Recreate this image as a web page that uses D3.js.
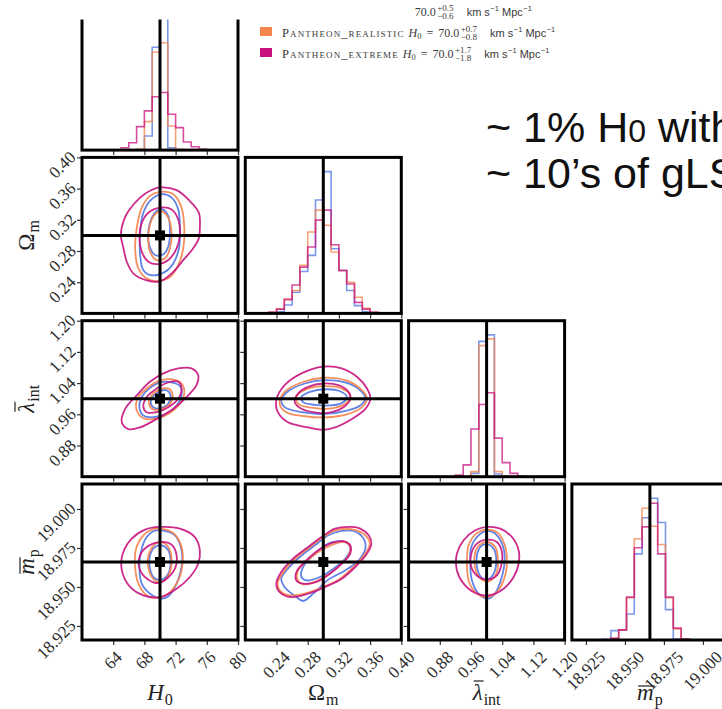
<!DOCTYPE html>
<html><head><meta charset="utf-8">
<script src="https://cdn.jsdelivr.net/npm/d3@7"></script>
<style>html,body{margin:0;padding:0;background:#fff;}svg{display:block;}</style>
</head><body>
<script>
// ---- parameters of the corner plot ----
const paramNames = ["H0", "Om", "lam", "mp"];
const truths = [70.0, 0.30, 1.00, 18.966];
const ranges = [[60, 80], [0.20, 0.40], [0.80, 1.20], [18.916, 19.016]];
const tickValues = [
  [64, 68, 72, 76, 80],
  [0.24, 0.28, 0.32, 0.36, 0.40],
  [0.88, 0.96, 1.04, 1.12, 1.20],
  [18.925, 18.950, 18.975, 19.000]
];
const tickFormats = ["d", ".2f", ".2f", ".3f"];
const nBins = 20;

// ---- series ----
const seriesKeys = ["ideal", "realistic", "extreme"];
const seriesLabels = ["Pantheon_ideal", "Pantheon_realistic", "Pantheon_extreme"];
const h0Median = ["70.0", "70.0", "70.0"];
const h0Upper = ["+0.5", "+0.7", "+1.7"];
const h0Lower = ["\u22120.6", "\u22120.8", "\u22121.8"];

// ---- 1D marginal histograms (20 bins over each range) ----
const histH0Ideal     = [0,0,0,0,0,0,0,0,14,102.3,141,2.3,0,0,0,0,0,0,0,0];
const histH0Realistic = [0,0,0,0,0,0,0,0.7,28.3,97.3,106.7,24,0.7,0,0,0,0,0,0,0];
const histH0Extreme   = [0,0,0,0,0,2.3,7.3,23.3,39,53,57.3,35.7,22.3,8,3.3,0.7,0,0,0,0];

const histOmIdeal     = [0,0,0,0.3,1.7,8.3,21,41.7,57.7,112.7,141,64.3,42.7,22.7,7.7,1.7,0.3,0,0,0];
const histOmRealistic = [0,0,0,1,4.3,14.3,22.7,47.7,81,102.7,87.7,61,42.7,31,16,5,1,0,0,0];
const histOmExtreme   = [0,0,0,1,4.3,13.7,28.3,46,66,92.7,102.7,68.3,42.7,29.3,11,4.3,1,0,0,0];

const histLamIdeal     = [0,0,0,0,0,0,0,0,3.3,134.3,140.7,2.7,0,0,0,0,0,0,0,0];
const histLamRealistic = [0,0,0,0,0,0,0,0,5,130,136.7,5,0.5,0,0,0,0,0,0,0];
const histLamExtreme   = [0,0,0,0,0,0,1.7,11.7,47.3,71.7,83.3,38.3,14,3.3,0.7,0,0,0,0,0];

const histMpIdeal     = [0,0,0,0,0.7,9.3,10,25.7,85,120.7,140,116,30,1,0,0,0,0,0,0];
const histMpRealistic = [0,0,0,0,0,1.7,10,41.7,100,130,112.3,94.3,41.7,11,1,0,0,0,0,0];
const histMpExtreme   = [0,0,0,0,0,1.7,10,42.3,91,111.7,135,85,42.3,11.7,1,0,0,0,0,0];

// ---- 2D credible contours: [inner level, outer level], points as [x, y] ----
const ctrH0OmIdeal = [
  [[70.34,0.3333],[71.06,0.3247],[71.28,0.3052],[71.06,0.2857],[70.43,0.2758],[69.36,0.2749],[68.60,0.2879],[68.51,0.3052],[68.94,0.3225],[69.57,0.3312]],
  [[70.21,0.3528],[71.49,0.3485],[72.34,0.3333],[72.55,0.3095],[72.43,0.2835],[71.70,0.2641],[70.64,0.2532],[68.94,0.2489],[67.87,0.2554],[67.45,0.2749],[67.45,0.3009],[67.79,0.3268],[68.72,0.3442]]
];
const ctrH0OmRealistic = [
  [[70.21,0.3312],[71.06,0.3225],[71.49,0.3030],[71.28,0.2835],[70.64,0.2706],[69.57,0.2684],[68.72,0.2792],[68.51,0.2987],[68.94,0.3204],[69.57,0.3290]],
  [[70.00,0.3559],[71.70,0.3528],[72.77,0.3355],[73.11,0.3095],[72.98,0.2835],[72.34,0.2619],[71.28,0.2467],[69.57,0.2415],[68.30,0.2446],[67.23,0.2576],[66.81,0.2835],[67.02,0.3095],[67.66,0.3355],[68.72,0.3507]]
];
const ctrH0OmExtreme = [
  [[70.00,0.3355],[71.49,0.3333],[72.34,0.3204],[72.55,0.3009],[72.13,0.2835],[71.06,0.2684],[69.79,0.2632],[68.51,0.2662],[67.66,0.2792],[67.36,0.2987],[67.66,0.3160],[68.51,0.3290]],
  [[70.00,0.3615],[72.13,0.3580],[73.83,0.3440],[74.98,0.3290],[75.11,0.3095],[74.98,0.2965],[74.26,0.2835],[72.98,0.2684],[71.70,0.2532],[70.00,0.2411],[68.30,0.2424],[66.60,0.2511],[65.74,0.2662],[65.32,0.2835],[64.98,0.3009],[65.32,0.3182],[65.96,0.3312],[67.45,0.3485],[68.72,0.3572]]
];

const ctrH0LamIdeal = [
  [[70.85,1.0217],[71.36,1.0087],[71.06,0.9870],[70.21,0.9766],[69.23,0.9766],[68.81,0.9896],[69.15,1.0069],[70.00,1.0190]],
  [[71.06,1.0433],[72.55,1.0329],[72.77,1.0087],[72.13,0.9827],[70.85,0.9610],[69.15,0.9524],[67.87,0.9567],[67.36,0.9783],[67.66,1.0043],[68.72,1.0277],[70.00,1.0416]]
];
const ctrH0LamRealistic = [
  [[71.06,1.0260],[71.62,1.0104],[71.28,0.9870],[70.21,0.9740],[69.15,0.9723],[68.60,0.9870],[68.94,1.0087],[70.00,1.0234]],
  [[71.28,1.0502],[72.77,1.0390],[73.11,1.0130],[72.55,0.9870],[71.06,0.9610],[69.36,0.9480],[67.87,0.9498],[67.02,0.9697],[67.11,1.0000],[68.30,1.0260],[69.79,1.0450]]
];
const ctrH0LamExtreme = [
  [[72.34,1.0433],[72.77,1.0260],[72.34,1.0000],[71.06,0.9783],[69.57,0.9654],[68.30,0.9654],[67.87,0.9783],[68.30,1.0043],[69.57,1.0260],[71.06,1.0416]],
  [[74.04,1.0779],[74.89,1.0606],[74.68,1.0346],[73.40,1.0043],[71.70,0.9740],[69.57,0.9480],[67.45,0.9264],[65.96,0.9221],[65.11,0.9394],[65.53,0.9740],[67.02,1.0087],[68.72,1.0433],[70.43,1.0650],[72.34,1.0779]]
];

const ctrOmLamIdeal = [
  [[0.3022,1.0242],[0.3215,1.0190],[0.3302,1.0043],[0.3237,0.9887],[0.3086,0.9827],[0.2892,0.9844],[0.2741,0.9913],[0.2720,1.0043],[0.2828,1.0173]],
  [[0.3000,1.0476],[0.3280,1.0416],[0.3474,1.0217],[0.3539,1.0017],[0.3474,0.9827],[0.3302,0.9697],[0.3022,0.9610],[0.2720,0.9654],[0.2504,0.9783],[0.2461,0.9957],[0.2547,1.0190],[0.2763,1.0390]]
];
const ctrOmLamRealistic = [
  [[0.3022,1.0320],[0.3237,1.0260],[0.3345,1.0104],[0.3302,0.9896],[0.3129,0.9758],[0.2892,0.9758],[0.2677,0.9870],[0.2655,1.0069],[0.2785,1.0243]],
  [[0.3000,1.0537],[0.3280,1.0476],[0.3474,1.0260],[0.3560,1.0017],[0.3496,0.9783],[0.3323,0.9610],[0.3065,0.9524],[0.2763,0.9550],[0.2526,0.9654],[0.2440,0.9870],[0.2504,1.0173],[0.2720,1.0416]]
];
const ctrOmLamExtreme = [
  [[0.3000,1.0390],[0.3194,1.0346],[0.3323,1.0173],[0.3345,0.9983],[0.3259,0.9783],[0.3108,0.9654],[0.2935,0.9636],[0.2720,0.9740],[0.2634,0.9913],[0.2677,1.0130],[0.2806,1.0303]],
  [[0.3000,1.0823],[0.3237,1.0779],[0.3431,1.0563],[0.3560,1.0260],[0.3603,1.0000],[0.3539,0.9740],[0.3366,0.9480],[0.3151,0.9264],[0.3000,0.9203],[0.2806,0.9264],[0.2547,0.9394],[0.2418,0.9654],[0.2397,0.9957],[0.2504,1.0346],[0.2720,1.0650]]
];

const ctrH0MpIdeal = [
  [[70.21,18.9767],[71.06,18.9735],[71.36,18.9660],[71.06,18.9585],[70.21,18.9547],[69.23,18.9559],[68.72,18.9617],[68.72,18.9703],[69.36,18.9756]],
  [[70.21,18.9863],[71.91,18.9831],[72.77,18.9735],[72.77,18.9628],[72.13,18.9521],[71.06,18.9440],[70.21,18.9425],[68.72,18.9457],[67.66,18.9521],[67.36,18.9628],[67.66,18.9746],[68.30,18.9820],[69.15,18.9857]]
];
const ctrH0MpRealistic = [
  [[70.21,18.9788],[71.06,18.9756],[71.49,18.9671],[71.19,18.9585],[70.43,18.9538],[69.36,18.9542],[68.64,18.9596],[68.43,18.9681],[68.94,18.9752],[69.57,18.9782]],
  [[70.00,18.9874],[71.70,18.9846],[72.77,18.9756],[72.89,18.9649],[72.34,18.9542],[71.06,18.9457],[69.57,18.9431],[68.30,18.9446],[67.23,18.9521],[66.81,18.9628],[66.94,18.9746],[67.87,18.9831],[68.94,18.9868]]
];
const ctrH0MpExtreme = [
  [[70.00,18.9788],[71.49,18.9771],[72.13,18.9703],[71.91,18.9617],[70.85,18.9553],[69.79,18.9525],[68.51,18.9547],[67.45,18.9606],[67.36,18.9692],[68.30,18.9756]],
  [[70.00,18.9885],[72.55,18.9874],[74.47,18.9820],[75.11,18.9735],[74.89,18.9649],[73.83,18.9564],[72.13,18.9489],[70.00,18.9435],[67.87,18.9446],[66.17,18.9500],[65.11,18.9606],[65.23,18.9714],[66.38,18.9810],[68.09,18.9868]]
];

const ctrOmMpIdeal = [
  [[0.3065,18.9778],[0.3280,18.9788],[0.3345,18.9746],[0.3280,18.9681],[0.3129,18.9617],[0.2957,18.9564],[0.2785,18.9542],[0.2720,18.9564],[0.2741,18.9628],[0.2871,18.9703]],
  [[0.3237,18.9859],[0.3388,18.9859],[0.3517,18.9810],[0.3539,18.9746],[0.3453,18.9671],[0.3280,18.9606],[0.3065,18.9547],[0.2871,18.9457],[0.2741,18.9410],[0.2655,18.9435],[0.2504,18.9500],[0.2461,18.9553],[0.2547,18.9617],[0.2698,18.9692],[0.2892,18.9767],[0.3065,18.9831]]
];
const ctrOmMpRealistic = [
  [[0.3129,18.9773],[0.3280,18.9788],[0.3345,18.9756],[0.3323,18.9703],[0.3216,18.9639],[0.3065,18.9581],[0.2892,18.9532],[0.2741,18.9517],[0.2668,18.9547],[0.2677,18.9606],[0.2785,18.9666],[0.2957,18.9731]],
  [[0.3151,18.9863],[0.3388,18.9868],[0.3539,18.9831],[0.3595,18.9778],[0.3539,18.9714],[0.3388,18.9628],[0.3216,18.9553],[0.3000,18.9500],[0.2785,18.9461],[0.2569,18.9446],[0.2440,18.9478],[0.2418,18.9532],[0.2504,18.9606],[0.2655,18.9688],[0.2828,18.9756],[0.3000,18.9820]]
];
const ctrOmMpExtreme = [
  [[0.3108,18.9782],[0.3259,18.9793],[0.3345,18.9767],[0.3345,18.9714],[0.3237,18.9649],[0.3086,18.9585],[0.2914,18.9532],[0.2741,18.9521],[0.2655,18.9542],[0.2655,18.9596],[0.2763,18.9660],[0.2935,18.9735]],
  [[0.3151,18.9874],[0.3366,18.9885],[0.3474,18.9874],[0.3582,18.9831],[0.3616,18.9778],[0.3560,18.9714],[0.3409,18.9628],[0.3237,18.9553],[0.3022,18.9500],[0.2806,18.9457],[0.2591,18.9435],[0.2440,18.9467],[0.2397,18.9521],[0.2461,18.9596],[0.2612,18.9681],[0.2806,18.9756],[0.2978,18.9820]]
];

const ctrLamMpIdeal = [
  [[1.0026,18.9773],[1.0197,18.9739],[1.0248,18.9660],[1.0180,18.9585],[1.0026,18.9547],[0.9855,18.9564],[0.9752,18.9628],[0.9752,18.9703],[0.9855,18.9761]],
  [[1.0026,18.9859],[1.0265,18.9831],[1.0436,18.9746],[1.0453,18.9639],[1.0351,18.9532],[1.0180,18.9446],[1.0026,18.9425],[0.9795,18.9457],[0.9624,18.9542],[0.9581,18.9649],[0.9607,18.9756],[0.9795,18.9831]]
];
const ctrLamMpRealistic = [
  [[1.0051,18.9788],[1.0222,18.9756],[1.0291,18.9671],[1.0248,18.9585],[1.0077,18.9538],[0.9880,18.9547],[0.9735,18.9596],[0.9684,18.9681],[0.9769,18.9756],[0.9923,18.9784]],
  [[1.0026,18.9868],[1.0308,18.9842],[1.0479,18.9756],[1.0522,18.9649],[1.0436,18.9542],[1.0222,18.9457],[0.9966,18.9435],[0.9709,18.9467],[0.9538,18.9542],[0.9496,18.9649],[0.9538,18.9767],[0.9735,18.9842]]
];
const ctrLamMpExtreme = [
  [[1.0026,18.9803],[1.0265,18.9788],[1.0393,18.9724],[1.0376,18.9639],[1.0265,18.9574],[1.0026,18.9547],[0.9795,18.9564],[0.9624,18.9617],[0.9598,18.9703],[0.9752,18.9778]],
  [[1.0009,18.9885],[1.0350,18.9874],[1.0650,18.9820],[1.0821,18.9735],[1.0821,18.9649],[1.0693,18.9564],[1.0436,18.9489],[1.0051,18.9446],[0.9709,18.9461],[0.9410,18.9521],[0.9239,18.9606],[0.9239,18.9714],[0.9410,18.9799],[0.9709,18.9863]]
];

// tables built from the arrays above
const histTable = [
  [histH0Ideal, histH0Realistic, histH0Extreme],
  [histOmIdeal, histOmRealistic, histOmExtreme],
  [histLamIdeal, histLamRealistic, histLamExtreme],
  [histMpIdeal, histMpRealistic, histMpExtreme]
];
const contourTable = {
  "1,0": [ctrH0OmIdeal, ctrH0OmRealistic, ctrH0OmExtreme],
  "2,0": [ctrH0LamIdeal, ctrH0LamRealistic, ctrH0LamExtreme],
  "2,1": [ctrOmLamIdeal, ctrOmLamRealistic, ctrOmLamExtreme],
  "3,0": [ctrH0MpIdeal, ctrH0MpRealistic, ctrH0MpExtreme],
  "3,1": [ctrOmMpIdeal, ctrOmMpRealistic, ctrOmMpExtreme],
  "3,2": [ctrLamMpIdeal, ctrLamMpRealistic, ctrLamMpExtreme]
};

// ---- layout & style ----
const W = 722, H = 709;
const colors = ["#4f74e4", "#f5834c", "#c8137f"];
const panelSize = 156, panelStep = 163.3;
const gridLeft = 82, gridBottom = 640;
const colLeft = j => gridLeft + j * panelStep;
const rowTop = i => gridBottom - panelSize - (3 - i) * panelStep;
const serif = "'Liberation Serif', 'DejaVu Serif', serif";
const sans = "'Liberation Sans', Arial, sans-serif";
const tickColor = "#333";
const NBSP = "\u00A0";

const svg = d3.select("body").append("svg").attr("width", W).attr("height", H);

function xScale(j) {
  return d3.scaleLinear().domain(ranges[j]).range([colLeft(j), colLeft(j) + panelSize]);
}
function yScale(i, top) {
  return d3.scaleLinear().domain(ranges[i]).range([top + panelSize, top]);
}

const plots = svg.append("g");

for (let i = 0; i < 4; i++) {
  for (let j = 0; j <= i; j++) {
    const left = colLeft(j), top = rowTop(i);
    const x = xScale(j);
    const g = plots.append("g");
    const clipId = `clip-${i}-${j}`;
    g.append("clipPath").attr("id", clipId).append("rect")
      .attr("x", left).attr("y", top).attr("width", panelSize).attr("height", panelSize);
    const inner = g.append("g").attr("clip-path", `url(#${clipId})`);

    // outward tick marks
    g.append("g").attr("transform", `translate(0,${top + panelSize})`)
      .call(d3.axisBottom(x).tickValues(tickValues[j]).tickSize(5).tickFormat(""))
      .call(a => a.select(".domain").remove())
      .call(a => a.selectAll("line").attr("stroke", tickColor).attr("stroke-width", 1.2));

    if (i === j) {
      // marginal histogram
      const counts = histTable[i];
      const ymax = 1.1 * d3.max(counts.flat());
      const y = d3.scaleLinear().domain([0, ymax]).range([top + panelSize, top]);
      const [lo, hi] = ranges[j];
      const edges = d3.range(nBins + 1).map(k => lo + (hi - lo) * k / nBins);
      const step = d3.line().x(d => x(d[0])).y(d => y(d[1])).curve(d3.curveStepAfter);
      counts.forEach((c, s) => {
        const pts = [[edges[0], 0]];
        c.forEach((v, k) => pts.push([edges[k], v]));
        pts.push([edges[nBins], c[nBins - 1]]);
        pts.push([edges[nBins], 0]);
        inner.append("path").attr("d", step(pts)).attr("fill", "none")
          .attr("stroke", colors[s]).attr("stroke-width", 1.6).attr("stroke-opacity", 0.75);
      });
      inner.append("line").attr("x1", x(truths[j])).attr("x2", x(truths[j]))
        .attr("y1", top).attr("y2", top + panelSize)
        .attr("stroke", "#000").attr("stroke-width", 3);
    } else {
      const y = yScale(i, top);
      g.append("g").attr("transform", `translate(${left},0)`)
        .call(d3.axisLeft(y).tickValues(tickValues[i]).tickSize(5).tickFormat(""))
        .call(a => a.select(".domain").remove())
        .call(a => a.selectAll("line").attr("stroke", tickColor).attr("stroke-width", 1.2));
      const line = d3.line().x(d => x(d[0])).y(d => y(d[1])).curve(d3.curveCatmullRomClosed.alpha(0.5));
      contourTable[`${i},${j}`].forEach((levels, s) => {
        levels.forEach(poly => {
          inner.append("path").attr("d", line(poly)).attr("fill", "none")
            .attr("stroke", colors[s]).attr("stroke-width", 1.8).attr("stroke-opacity", 0.9);
        });
      });
      const tx = x(truths[j]), ty = y(truths[i]);
      inner.append("line").attr("x1", tx).attr("x2", tx).attr("y1", top).attr("y2", top + panelSize)
        .attr("stroke", "#000").attr("stroke-width", 3);
      inner.append("line").attr("x1", left).attr("x2", left + panelSize).attr("y1", ty).attr("y2", ty)
        .attr("stroke", "#000").attr("stroke-width", 3);
      inner.append("rect").attr("x", tx - 5).attr("y", ty - 5).attr("width", 10).attr("height", 10).attr("fill", "#000");
    }
    g.append("rect").attr("x", left).attr("y", top).attr("width", panelSize).attr("height", panelSize)
      .attr("fill", "none").attr("stroke", "#000").attr("stroke-width", 3);
  }
}

// ---- tick labels ----
const labelSize = 17;
const labels = svg.append("g").attr("font-family", serif).attr("font-size", labelSize).attr("fill", "#2a2a2a");
for (let j = 0; j < 4; j++) {
  const x = xScale(j), fmt = d3.format(tickFormats[j]);
  tickValues[j].forEach(v => {
    const t = labels.append("text").text(fmt(v)).attr("text-anchor", "middle").attr("dominant-baseline", "central");
    const L = t.node().getComputedTextLength();
    const cx = x(v), cy = gridBottom + 10 + (L + 12) / (2 * Math.SQRT2);
    t.attr("x", cx).attr("y", cy).attr("transform", `rotate(-45,${cx},${cy})`);
  });
}
for (let i = 1; i < 4; i++) {
  const y = yScale(i, rowTop(i)), fmt = d3.format(tickFormats[i]);
  tickValues[i].forEach(v => {
    const ax = gridLeft - 9, ay = y(v) - 3;
    labels.append("text").text(fmt(v)).attr("text-anchor", "end").attr("dominant-baseline", "central")
      .attr("x", ax).attr("y", ay).attr("transform", `rotate(-45,${ax},${ay})`);
  });
}

// ---- axis titles ----
const axisTitles = [
  {main: "H", sub: "0", italic: true, bar: null},
  {main: "\u03A9", sub: "m", italic: false, bar: null},
  {main: "\u03BB", sub: "int", italic: true, bar: -19},
  {main: "m", sub: "p", italic: true, bar: -14}
];
function axisTitle(g, t) {
  const m = g.append("text").attr("font-family", serif).attr("font-size", 23)
    .attr("font-style", t.italic ? "italic" : "normal").attr("fill", "#222").text(t.main);
  const w1 = m.node().getComputedTextLength();
  const s = g.append("text").attr("font-family", serif).attr("font-size", 16).attr("fill", "#222")
    .attr("x", w1 + 1).attr("y", 5).text(t.sub);
  const w2 = s.node().getComputedTextLength();
  if (t.bar !== null) {
    g.append("line").attr("x1", 1).attr("x2", w1 + 1).attr("y1", t.bar).attr("y2", t.bar)
      .attr("stroke", "#222").attr("stroke-width", 1.2);
  }
  const shift = -(w1 + 1 + w2) / 2;
  g.selectAll("text, line").attr("transform", `translate(${shift},0)`);
}
for (let j = 0; j < 4; j++) {
  axisTitle(svg.append("g").attr("transform", `translate(${colLeft(j) + panelSize / 2},700)`), axisTitles[j]);
}
for (let i = 1; i < 4; i++) {
  axisTitle(svg.append("g").attr("transform", `translate(34,${rowTop(i) + panelSize / 2}) rotate(-90)`), axisTitles[i]);
}

// ---- legend ----
const legend = svg.append("g").attr("fill", "#3a3a3a");
function run(x, y, str, opt) {
  const t = legend.append("text").attr("x", x).attr("y", y).text(str)
    .attr("font-family", opt.font || serif).attr("font-size", opt.size || 12);
  if (opt.italic) t.attr("font-style", "italic");
  if (opt.caps) t.style("font-variant", "small-caps").attr("letter-spacing", 1.1);
  return t.node().getComputedTextLength();
}
let headerMaskWidth = 404;
seriesKeys.forEach((key, s) => {
  const y = 15.5 + s * 21;
  legend.append("rect").attr("x", 260).attr("y", y - 9.5).attr("width", 12).attr("height", 9).attr("fill", colors[s]);
  let x = 282;
  x += run(x, y, seriesLabels[s], {caps: true, size: 12.5});
  x += 4;
  x += run(x, y, "H", {italic: true, size: 12});
  x += run(x, y + 2.5, "0", {size: 8.5});
  x += 5;
  x += run(x, y, "=", {size: 12});
  x += 5;
  if (s === 0) headerMaskWidth = x - 2;
  x += run(x, y, h0Median[s], {size: 12});
  x += 1.5;
  const a = run(x, y - 5, h0Upper[s], {size: 9});
  const b = run(x, y + 3.5, h0Lower[s], {size: 9});
  x += Math.max(a, b) + 13;
  x += run(x, y, "km" + NBSP + "s", {font: sans, size: 11});
  x += run(x + 0.5, y - 4.5, "\u22121", {font: sans, size: 7.5}) + 0.5;
  x += run(x, y, NBSP + "Mpc", {font: sans, size: 11});
  run(x + 0.5, y - 4.5, "\u22121", {font: sans, size: 7.5});
});
// white header band over the top of the first row
svg.append("rect").attr("x", 0).attr("y", 0).attr("width", headerMaskWidth).attr("height", 19.5).attr("fill", "#fff");

// ---- annotation ----
const note = svg.append("g").attr("font-family", sans).attr("fill", "#111");
const n1 = note.append("text").attr("x", 486).attr("y", 142).attr("font-size", 43);
n1.append("tspan").text("~ 1% H");
n1.append("tspan").attr("font-size", 32).text("0");
n1.append("tspan").text(" with");
note.append("text").attr("x", 486).attr("y", 188).attr("font-size", 43).text("~ 10\u2019s of gLS");
</script>
</body></html>
